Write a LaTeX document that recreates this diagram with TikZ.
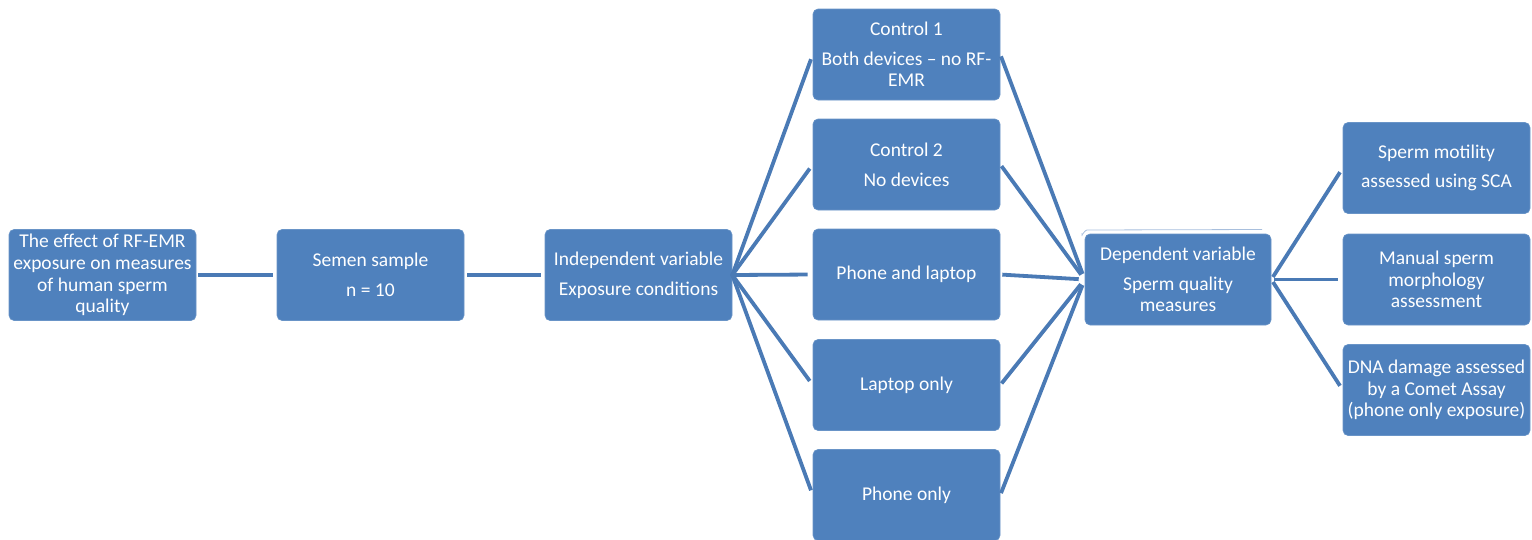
\documentclass[tikz,border=0pt]{standalone}
\usepackage{fontspec}
\setmainfont{Carlito}
\definecolor{boxblue}{HTML}{4F81BD}
\definecolor{lineblue}{HTML}{4A7AB5}
\definecolor{faintblue}{HTML}{A8BFDD}
\begin{document}
\begin{tikzpicture}[x=1pt,y=-1pt,
  box/.style={rectangle, rounded corners=5pt, fill=boxblue, draw=boxblue!85!white, line width=0.6pt,
    minimum width=187pt, minimum height=91pt, inner sep=2pt, align=center, text=white,
    font=\fontsize{19.5}{21.7}\selectfont},
  link/.style={draw=lineblue, line width=3.8pt},
  fanout/.style={link, shorten >=5pt},
  fanin/.style={link, shorten <=2pt, shorten >=6pt}]
\useasboundingbox (0,0) rectangle (1532,539);
\clip (0,0) rectangle (1532,539);
% nodes
\node[box] (A) at (102.5,275) {The effect of RF-EMR\\exposure on measures\\of human sperm\\quality};
\node[box] (B) at (370.5,275) {Semen sample\\[8pt]n = 10};
\node[box] (C) at (638.5,275) {Independent variable\\[8pt]Exposure conditions};
\node[box] (c1) at (906.5,54.5) {Control 1\\[8pt]Both devices – no RF-\\EMR};
\node[box] (c2) at (906.5,164.5) {Control 2\\[8pt]No devices};
\node[box] (c3) at (906.5,274.5) {Phone and laptop};
\node[box] (c4) at (906.5,385) {Laptop only};
\node[box] (c5) at (906.5,495) {Phone only};
\node[box, minimum width=186pt] (D) at (1178,279.5) {Dependent variable\\[8pt]Sperm quality\\measures};
\node[box] (m1) at (1436.5,168) {Sperm motility\\[8pt]assessed using SCA};
\node[box] (m2) at (1436.5,279.5) {Manual sperm\\morphology\\assessment};
\node[box] (m3) at (1436.5,390) {DNA damage assessed\\by a Comet Assay\\(phone only exposure)};
% faint outline artefact above D
\draw[faintblue, line width=0.8pt] (1082,236) -- (1082,234) to[out=-90,in=180] (1087,230) -- (1262,229.5);
% connectors
\draw[link, shorten <=2pt, shorten >=4pt] (A) -- (B);
\draw[link, shorten <=3pt, shorten >=4pt] (B) -- (C);
\foreach \n in {c1,c2,c3,c4,c5}{
  \draw[fanout, shorten <=-1pt] (C.east) -- (\n.west);
  \draw[fanin] (\n.east) -- (D.west);
}
\foreach \n in {m1,m2,m3}{
  \draw[link, shorten <=3pt, shorten >=5pt] (D.east) -- (\n.west);
}
\end{tikzpicture}
\end{document}
